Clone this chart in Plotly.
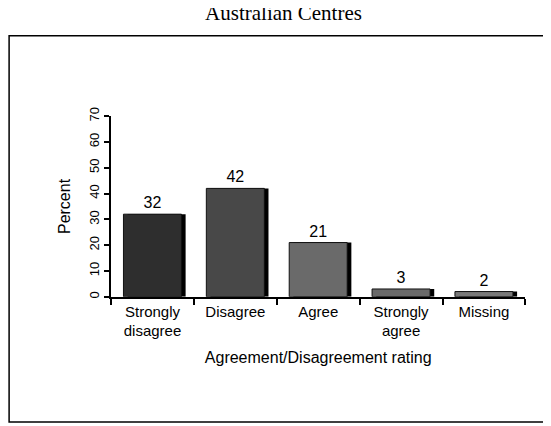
import plotly.graph_objects as go

categories = ["Strongly<br>disagree", "Disagree", "Agree", "Strongly<br>agree", "Missing"]
values = [32, 42, 21, 3, 2]
bar_colors = ["#2e2e2e", "#484848", "#6a6a6a", "#6a6a6a", "#787878"]

fig = go.Figure()
# shadow
fig.add_trace(go.Bar(x=categories, y=values, width=0.7, offset=-0.3,
                     marker=dict(color="#000000", line=dict(width=0)), hoverinfo="skip"))
fig.add_trace(go.Bar(x=categories, y=values, width=0.7, offset=-0.35,
                     marker=dict(color=bar_colors, line=dict(color="#111", width=1)),
                     text=[str(v) for v in values], textposition="outside",
                     textfont=dict(family="Liberation Sans", size=16, color="black"),
                     cliponaxis=False))
fig.update_layout(
    width=551, height=426, barmode="overlay", showlegend=False,
    plot_bgcolor="white", paper_bgcolor="white",
    margin=dict(l=0, r=0, t=0, b=0),
    font=dict(family="Liberation Sans", size=15, color="black"),
    title=dict(text="Australian Centres", x=0.5, xanchor="center", y=0.99, yanchor="middle",
               font=dict(family="Liberation Serif", size=21, color="black")),
    xaxis=dict(domain=[0.187, 0.939], showline=True, linecolor="black", linewidth=2,
               ticks="outside", tickson="boundaries", ticklen=6, tickwidth=2, tickcolor="black",
               title=dict(text="Agreement/Disagreement rating", standoff=14,
                          font=dict(size=16))),
    yaxis=dict(domain=[0.326, 0.761], range=[0, 70], dtick=10, showline=True,
               linecolor="black", linewidth=2, ticks="outside", ticklen=5, tickwidth=2,
               tickcolor="black", tickangle=-90, showgrid=False, zeroline=False,
               tickfont=dict(size=13),
               title=dict(text="Percent", standoff=12, font=dict(size=16))),
    shapes=[dict(type="rect", xref="paper", yref="paper", x0=0.002, x1=0.989,
                 y0=0.024, y1=0.955, line=dict(color="black", width=1.5))],
)
fig.write_html("out.html")
